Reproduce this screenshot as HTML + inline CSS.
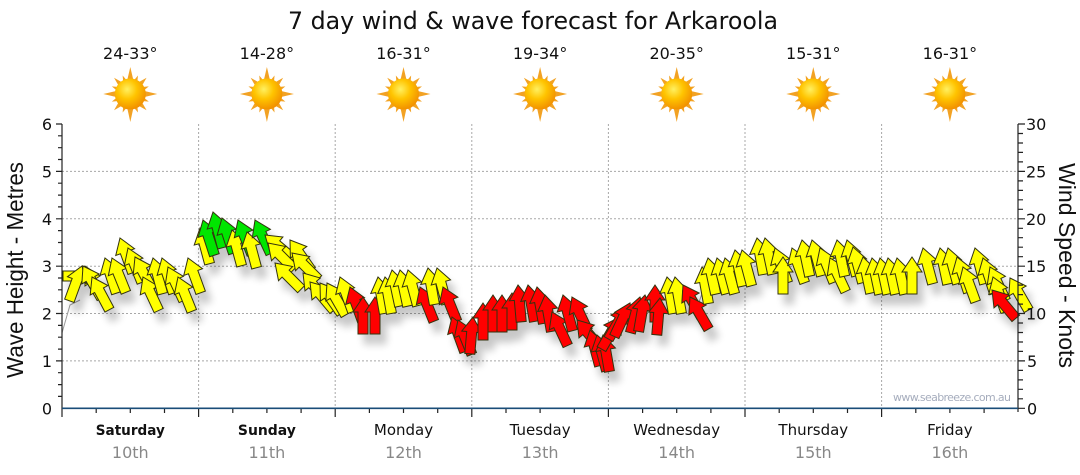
<!DOCTYPE html>
<html><head><meta charset="utf-8"><style>
html,body{margin:0;padding:0;background:#fff;}
svg{display:block;}
</style></head><body>
<svg xmlns="http://www.w3.org/2000/svg" xmlns:xlink="http://www.w3.org/1999/xlink" width="1080" height="475" viewBox="0 0 1080 475">
<defs>
<radialGradient id="core" cx="40%" cy="35%" r="70%">
<stop offset="0" stop-color="#fff060"/><stop offset="0.45" stop-color="#ffc400"/><stop offset="1" stop-color="#f08a00"/>
</radialGradient>
<g id="sun">
<g fill="#f2a224">
<polygon points="-3.5,-12 0,-27 3.5,-12"/>
<polygon points="-3.5,12 0,28 3.5,12"/>
<polygon points="-12,-3.5 -27,0 -12,3.5"/>
<polygon points="12,-3.5 27,0 12,3.5"/>
<g transform="rotate(45)"><polygon points="-3,-12 0,-23 3,-12"/><polygon points="-3,12 0,23 3,12"/><polygon points="-12,-3 -23,0 -12,3"/><polygon points="12,-3 23,0 12,3"/></g>
<g transform="rotate(22.5)"><polygon points="-2.5,-12 0,-20 2.5,-12"/><polygon points="-2.5,12 0,20 2.5,12"/><polygon points="-12,-2.5 -20,0 -12,2.5"/><polygon points="12,-2.5 20,0 12,2.5"/></g>
<g transform="rotate(67.5)"><polygon points="-2.5,-12 0,-20 2.5,-12"/><polygon points="-2.5,12 0,20 2.5,12"/><polygon points="-12,-2.5 -20,0 -12,2.5"/><polygon points="12,-2.5 20,0 12,2.5"/></g>
</g>
<circle r="15.5" fill="url(#core)"/>
</g>
<polygon id="a" points="0,0 10,15 5,15 5,37 -5,37 -5,15 -10,15" stroke="#33330f" stroke-width="1" stroke-linejoin="miter"/>
<filter id="sh" x="-10%" y="-30%" width="130%" height="180%">
<feGaussianBlur in="SourceAlpha" stdDeviation="4"/>
<feOffset dx="6" dy="10" result="b"/>
<feComponentTransfer><feFuncA type="linear" slope="0.22"/></feComponentTransfer>
<feMerge><feMergeNode/><feMergeNode in="SourceGraphic"/></feMerge>
</filter>
</defs>

<rect width="1080" height="475" fill="#fff"/>

<text x="533" y="29" font-family="DejaVu Sans, Verdana, sans-serif" font-size="24" fill="#111" text-anchor="middle" textLength="490" lengthAdjust="spacingAndGlyphs">7 day wind &amp; wave forecast for Arkaroola</text>

<g font-family="DejaVu Sans, Verdana, sans-serif" font-size="16" fill="#111" text-anchor="middle">
<text x="130.3" y="59">24-33°</text>
<text x="266.9" y="59">14-28°</text>
<text x="403.5" y="59">16-31°</text>
<text x="540.1" y="59">19-34°</text>
<text x="676.7" y="59">20-35°</text>
<text x="813.3" y="59">15-31°</text>
<text x="949.9" y="59">16-31°</text>
</g>

<use xlink:href="#sun" href="#sun" x="130.3" y="94"/>
<use xlink:href="#sun" href="#sun" x="266.9" y="94"/>
<use xlink:href="#sun" href="#sun" x="403.5" y="94"/>
<use xlink:href="#sun" href="#sun" x="540.1" y="94"/>
<use xlink:href="#sun" href="#sun" x="676.7" y="94"/>
<use xlink:href="#sun" href="#sun" x="813.3" y="94"/>
<use xlink:href="#sun" href="#sun" x="949.9" y="94"/>

<g stroke="#a8a8a8" stroke-width="1" stroke-dasharray="2,2" fill="none">
<line x1="62" y1="360.9" x2="1018" y2="360.9"/>
<line x1="62" y1="313.5" x2="1018" y2="313.5"/>
<line x1="62" y1="266.2" x2="1018" y2="266.2"/>
<line x1="62" y1="218.8" x2="1018" y2="218.8"/>
<line x1="62" y1="171.4" x2="1018" y2="171.4"/>
<line x1="198.6" y1="124" x2="198.6" y2="408"/>
<line x1="335.2" y1="124" x2="335.2" y2="408"/>
<line x1="471.8" y1="124" x2="471.8" y2="408"/>
<line x1="608.4" y1="124" x2="608.4" y2="408"/>
<line x1="745" y1="124" x2="745" y2="408"/>
<line x1="881.6" y1="124" x2="881.6" y2="408"/>
</g>

<text x="893" y="401" font-family="DejaVu Sans, Verdana, sans-serif" font-size="11" fill="#a6adbd" textLength="118" lengthAdjust="spacing">www.seabreeze.com.au</text>

<polyline fill="none" stroke="#9a9a9a" stroke-width="1" points="62,333 70,305 80,300"/>
<polyline fill="none" stroke="#9a9a9a" stroke-width="1" points="698,305 705,285"/>

<g filter="url(#sh)">
<use href="#a" xlink:href="#a" fill="#ffff00" transform="translate(100,276) rotate(90)"/>
<use href="#a" xlink:href="#a" fill="#ffff00" transform="translate(82,266) rotate(20)"/>
<use href="#a" xlink:href="#a" fill="#ffff00" transform="translate(83,266) rotate(-30)"/>
<use href="#a" xlink:href="#a" fill="#ffff00" transform="translate(92,277) rotate(-28)"/>
<use href="#a" xlink:href="#a" fill="#ffff00" transform="translate(105,258) rotate(-18)"/>
<use href="#a" xlink:href="#a" fill="#ffff00" transform="translate(112,258) rotate(-22)"/>
<use href="#a" xlink:href="#a" fill="#ffff00" transform="translate(120,238) rotate(-20)"/>
<use href="#a" xlink:href="#a" fill="#ffff00" transform="translate(128,248) rotate(-22)"/>
<use href="#a" xlink:href="#a" fill="#ffff00" transform="translate(135,257) rotate(-28)"/>
<use href="#a" xlink:href="#a" fill="#ffff00" transform="translate(143,277) rotate(-25)"/>
<use href="#a" xlink:href="#a" fill="#ffff00" transform="translate(153,258) rotate(-15)"/>
<use href="#a" xlink:href="#a" fill="#ffff00" transform="translate(162,258) rotate(-18)"/>
<use href="#a" xlink:href="#a" fill="#ffff00" transform="translate(168,267) rotate(-25)"/>
<use href="#a" xlink:href="#a" fill="#ffff00" transform="translate(178,277) rotate(-22)"/>
<use href="#a" xlink:href="#a" fill="#ffff00" transform="translate(188,258) rotate(-20)"/>
<use href="#a" xlink:href="#a" fill="#ffff00" transform="translate(200,228) rotate(-15)"/>
<use href="#a" xlink:href="#a" fill="#00e600" transform="translate(203,220) rotate(-18)"/>
<use href="#a" xlink:href="#a" fill="#00e600" transform="translate(213,212) rotate(-15)"/>
<use href="#a" xlink:href="#a" fill="#00e600" transform="translate(222,218) rotate(-18)"/>
<use href="#a" xlink:href="#a" fill="#ffff00" transform="translate(232,230) rotate(-15)"/>
<use href="#a" xlink:href="#a" fill="#00e600" transform="translate(238,220) rotate(-22)"/>
<use href="#a" xlink:href="#a" fill="#ffff00" transform="translate(247,232) rotate(-15)"/>
<use href="#a" xlink:href="#a" fill="#00e600" transform="translate(255,220) rotate(-25)"/>
<use href="#a" xlink:href="#a" fill="#ffff00" transform="translate(265,235) rotate(-50)"/>
<use href="#a" xlink:href="#a" fill="#ffff00" transform="translate(268,243) rotate(-45)"/>
<use href="#a" xlink:href="#a" fill="#ffff00" transform="translate(275,263) rotate(-45)"/>
<use href="#a" xlink:href="#a" fill="#ffff00" transform="translate(290,240) rotate(-35)"/>
<use href="#a" xlink:href="#a" fill="#ffff00" transform="translate(292,253) rotate(-45)"/>
<use href="#a" xlink:href="#a" fill="#ffff00" transform="translate(303,273) rotate(-40)"/>
<use href="#a" xlink:href="#a" fill="#ffff00" transform="translate(310,282) rotate(-40)"/>
<use href="#a" xlink:href="#a" fill="#ffff00" transform="translate(320,283) rotate(-35)"/>
<use href="#a" xlink:href="#a" fill="#ffff00" transform="translate(327,283) rotate(-30)"/>
<use href="#a" xlink:href="#a" fill="#ffff00" transform="translate(340,277) rotate(-20)"/>
<use href="#a" xlink:href="#a" fill="#ff0000" transform="translate(350,287) rotate(-20)"/>
<use href="#a" xlink:href="#a" fill="#ff0000" transform="translate(363,297) rotate(0)"/>
<use href="#a" xlink:href="#a" fill="#ff0000" transform="translate(375,297) rotate(0)"/>
<use href="#a" xlink:href="#a" fill="#ffff00" transform="translate(378,277) rotate(-10)"/>
<use href="#a" xlink:href="#a" fill="#ffff00" transform="translate(385,277) rotate(-10)"/>
<use href="#a" xlink:href="#a" fill="#ffff00" transform="translate(392,270) rotate(-12)"/>
<use href="#a" xlink:href="#a" fill="#ffff00" transform="translate(400,270) rotate(-12)"/>
<use href="#a" xlink:href="#a" fill="#ffff00" transform="translate(408,270) rotate(-15)"/>
<use href="#a" xlink:href="#a" fill="#ff0000" transform="translate(420,287) rotate(-22)"/>
<use href="#a" xlink:href="#a" fill="#ffff00" transform="translate(428,268) rotate(-10)"/>
<use href="#a" xlink:href="#a" fill="#ffff00" transform="translate(437,268) rotate(-15)"/>
<use href="#a" xlink:href="#a" fill="#ff0000" transform="translate(443,287) rotate(-22)"/>
<use href="#a" xlink:href="#a" fill="#ff0000" transform="translate(452,317) rotate(-20)"/>
<use href="#a" xlink:href="#a" fill="#ff0000" transform="translate(458,320) rotate(-22)"/>
<use href="#a" xlink:href="#a" fill="#ff0000" transform="translate(473,317) rotate(5)"/>
<use href="#a" xlink:href="#a" fill="#ff0000" transform="translate(483,303) rotate(0)"/>
<use href="#a" xlink:href="#a" fill="#ff0000" transform="translate(493,295) rotate(0)"/>
<use href="#a" xlink:href="#a" fill="#ff0000" transform="translate(502,295) rotate(0)"/>
<use href="#a" xlink:href="#a" fill="#ff0000" transform="translate(512,293) rotate(0)"/>
<use href="#a" xlink:href="#a" fill="#ff0000" transform="translate(518,285) rotate(-5)"/>
<use href="#a" xlink:href="#a" fill="#ff0000" transform="translate(528,285) rotate(-10)"/>
<use href="#a" xlink:href="#a" fill="#ff0000" transform="translate(537,287) rotate(-10)"/>
<use href="#a" xlink:href="#a" fill="#ff0000" transform="translate(545,295) rotate(-10)"/>
<use href="#a" xlink:href="#a" fill="#ff0000" transform="translate(552,312) rotate(-25)"/>
<use href="#a" xlink:href="#a" fill="#ff0000" transform="translate(563,295) rotate(-15)"/>
<use href="#a" xlink:href="#a" fill="#ff0000" transform="translate(572,297) rotate(-25)"/>
<use href="#a" xlink:href="#a" fill="#ff0000" transform="translate(577,320) rotate(-40)"/>
<use href="#a" xlink:href="#a" fill="#ff0000" transform="translate(590,330) rotate(-15)"/>
<use href="#a" xlink:href="#a" fill="#ff0000" transform="translate(597,335) rotate(-15)"/>
<use href="#a" xlink:href="#a" fill="#ff0000" transform="translate(603,335) rotate(-10)"/>
<use href="#a" xlink:href="#a" fill="#ff0000" transform="translate(620,317) rotate(30)"/>
<use href="#a" xlink:href="#a" fill="#ff0000" transform="translate(627,307) rotate(30)"/>
<use href="#a" xlink:href="#a" fill="#ff0000" transform="translate(630,303) rotate(25)"/>
<use href="#a" xlink:href="#a" fill="#ff0000" transform="translate(640,297) rotate(15)"/>
<use href="#a" xlink:href="#a" fill="#ff0000" transform="translate(645,295) rotate(10)"/>
<use href="#a" xlink:href="#a" fill="#ff0000" transform="translate(655,285) rotate(0)"/>
<use href="#a" xlink:href="#a" fill="#ff0000" transform="translate(660,298) rotate(5)"/>
<use href="#a" xlink:href="#a" fill="#ffff00" transform="translate(667,277) rotate(-10)"/>
<use href="#a" xlink:href="#a" fill="#ffff00" transform="translate(675,277) rotate(-10)"/>
<use href="#a" xlink:href="#a" fill="#ff0000" transform="translate(683,285) rotate(-30)"/>
<use href="#a" xlink:href="#a" fill="#ff0000" transform="translate(690,297) rotate(-30)"/>
<use href="#a" xlink:href="#a" fill="#ffff00" transform="translate(702,267) rotate(-10)"/>
<use href="#a" xlink:href="#a" fill="#ffff00" transform="translate(708,258) rotate(-12)"/>
<use href="#a" xlink:href="#a" fill="#ffff00" transform="translate(717,258) rotate(-15)"/>
<use href="#a" xlink:href="#a" fill="#ffff00" transform="translate(725,258) rotate(-15)"/>
<use href="#a" xlink:href="#a" fill="#ffff00" transform="translate(735,250) rotate(-12)"/>
<use href="#a" xlink:href="#a" fill="#ffff00" transform="translate(742,250) rotate(-15)"/>
<use href="#a" xlink:href="#a" fill="#ffff00" transform="translate(757,238) rotate(-10)"/>
<use href="#a" xlink:href="#a" fill="#ffff00" transform="translate(765,238) rotate(-12)"/>
<use href="#a" xlink:href="#a" fill="#ffff00" transform="translate(775,248) rotate(-20)"/>
<use href="#a" xlink:href="#a" fill="#ffff00" transform="translate(783,257) rotate(0)"/>
<use href="#a" xlink:href="#a" fill="#ffff00" transform="translate(792,248) rotate(-20)"/>
<use href="#a" xlink:href="#a" fill="#ffff00" transform="translate(802,240) rotate(-12)"/>
<use href="#a" xlink:href="#a" fill="#ffff00" transform="translate(812,240) rotate(-15)"/>
<use href="#a" xlink:href="#a" fill="#ffff00" transform="translate(820,248) rotate(-22)"/>
<use href="#a" xlink:href="#a" fill="#ffff00" transform="translate(830,258) rotate(-25)"/>
<use href="#a" xlink:href="#a" fill="#ffff00" transform="translate(837,240) rotate(-12)"/>
<use href="#a" xlink:href="#a" fill="#ffff00" transform="translate(847,240) rotate(-15)"/>
<use href="#a" xlink:href="#a" fill="#ffff00" transform="translate(853,247) rotate(-15)"/>
<use href="#a" xlink:href="#a" fill="#ffff00" transform="translate(863,257) rotate(-12)"/>
<use href="#a" xlink:href="#a" fill="#ffff00" transform="translate(872,258) rotate(-12)"/>
<use href="#a" xlink:href="#a" fill="#ffff00" transform="translate(880,258) rotate(-12)"/>
<use href="#a" xlink:href="#a" fill="#ffff00" transform="translate(888,258) rotate(-12)"/>
<use href="#a" xlink:href="#a" fill="#ffff00" transform="translate(897,258) rotate(-12)"/>
<use href="#a" xlink:href="#a" fill="#ffff00" transform="translate(912,257) rotate(0)"/>
<use href="#a" xlink:href="#a" fill="#ffff00" transform="translate(923,248) rotate(-15)"/>
<use href="#a" xlink:href="#a" fill="#ffff00" transform="translate(940,248) rotate(-12)"/>
<use href="#a" xlink:href="#a" fill="#ffff00" transform="translate(948,248) rotate(-15)"/>
<use href="#a" xlink:href="#a" fill="#ffff00" transform="translate(957,257) rotate(-18)"/>
<use href="#a" xlink:href="#a" fill="#ffff00" transform="translate(963,267) rotate(-20)"/>
<use href="#a" xlink:href="#a" fill="#ffff00" transform="translate(975,248) rotate(-15)"/>
<use href="#a" xlink:href="#a" fill="#ffff00" transform="translate(983,258) rotate(-18)"/>
<use href="#a" xlink:href="#a" fill="#ffff00" transform="translate(990,267) rotate(-25)"/>
<use href="#a" xlink:href="#a" fill="#ffff00" transform="translate(993,277) rotate(-20)"/>
<use href="#a" xlink:href="#a" fill="#ff0000" transform="translate(992,290) rotate(-40)"/>
<use href="#a" xlink:href="#a" fill="#ffff00" transform="translate(1010,278) rotate(-30)"/>
</g>

<g stroke="#222" stroke-width="1.2" fill="none">
<line x1="62" y1="124" x2="62" y2="417"/>
<line x1="1018" y1="124" x2="1018" y2="412"/>
<path d="M56,124H62M56,171.4H62M56,218.8H62M56,266.2H62M56,313.5H62M56,360.9H62"/>
<path d="M58,135.8H62M58,147.7H62M58,159.5H62M58,183.2H62M58,195.1H62M58,206.9H62M58,230.6H62M58,242.5H62M58,254.3H62M58,278H62M58,289.8H62M58,301.7H62M58,325.4H62M58,337.2H62M58,349.1H62M58,372.7H62M58,384.6H62M58,396.4H62"/>
<path d="M1018,124H1025M1018,171.4H1025M1018,218.8H1025M1018,266.2H1025M1018,313.5H1025M1018,360.9H1025M1018,408.3H1025"/>
<path d="M1018,133.5H1023M1018,143H1023M1018,152.4H1023M1018,161.9H1023M1018,180.9H1023M1018,190.4H1023M1018,199.8H1023M1018,209.3H1023M1018,228.3H1023M1018,237.7H1023M1018,247.2H1023M1018,256.7H1023M1018,275.6H1023M1018,285.1H1023M1018,294.6H1023M1018,304.1H1023M1018,323H1023M1018,332.5H1023M1018,342H1023M1018,351.4H1023M1018,370.4H1023M1018,379.9H1023M1018,389.3H1023M1018,398.8H1023"/>
<path d="M198.6,408V417M335.2,408V417M471.8,408V417M608.4,408V417M745,408V417M881.6,408V417"/>
<path d="M96.2,408V413M130.3,408V413M164.5,408V413M232.8,408V413M266.9,408V413M301.1,408V413M369.4,408V413M403.5,408V413M437.7,408V413M506,408V413M540.1,408V413M574.3,408V413M642.6,408V413M676.7,408V413M710.9,408V413M779.2,408V413M813.3,408V413M847.5,408V413M915.8,408V413M949.9,408V413M984.1,408V413"/>
</g>
<line x1="62" y1="408.3" x2="1018" y2="408.3" stroke="#1a4d78" stroke-width="1.6"/>

<g font-family="DejaVu Sans, Verdana, sans-serif" font-size="16" fill="#111" text-anchor="end">
<text x="52" y="130">6</text>
<text x="52" y="177.4">5</text>
<text x="52" y="224.8">4</text>
<text x="52" y="272.2">3</text>
<text x="52" y="319.5">2</text>
<text x="52" y="366.9">1</text>
<text x="52" y="414.3">0</text>
</g>
<g font-family="DejaVu Sans, Verdana, sans-serif" font-size="16" fill="#111">
<text x="1026" y="130">30</text>
<text x="1026" y="177.4">25</text>
<text x="1026" y="224.8">20</text>
<text x="1026" y="272.2">15</text>
<text x="1026" y="319.5">10</text>
<text x="1027" y="366.9">5</text>
<text x="1027" y="414.3">0</text>
</g>

<text transform="translate(23,270) rotate(-90)" font-family="Liberation Sans, Arial, sans-serif" font-size="23" fill="#111" text-anchor="middle" textLength="216" lengthAdjust="spacingAndGlyphs">Wave Height - Metres</text>
<text transform="translate(1059,265.5) rotate(90)" font-family="Liberation Sans, Arial, sans-serif" font-size="23" fill="#111" text-anchor="middle" textLength="205" lengthAdjust="spacingAndGlyphs">Wind Speed - Knots</text>

<g font-family="DejaVu Sans, Verdana, sans-serif" font-size="15" fill="#111" text-anchor="middle">
<text x="130.3" y="435" font-weight="bold" font-size="14" textLength="69" lengthAdjust="spacingAndGlyphs">Saturday</text>
<text x="266.9" y="435" font-weight="bold" font-size="14" textLength="58" lengthAdjust="spacingAndGlyphs">Sunday</text>
<text x="403.5" y="435">Monday</text>
<text x="540.1" y="435">Tuesday</text>
<text x="676.7" y="435">Wednesday</text>
<text x="813.3" y="435">Thursday</text>
<text x="949.9" y="435">Friday</text>
</g>
<g font-family="DejaVu Sans, Verdana, sans-serif" font-size="16" fill="#888" text-anchor="middle">
<text x="130.3" y="458">10th</text>
<text x="266.9" y="458">11th</text>
<text x="403.5" y="458">12th</text>
<text x="540.1" y="458">13th</text>
<text x="676.7" y="458">14th</text>
<text x="813.3" y="458">15th</text>
<text x="949.9" y="458">16th</text>
</g>
</svg>
</body></html>
